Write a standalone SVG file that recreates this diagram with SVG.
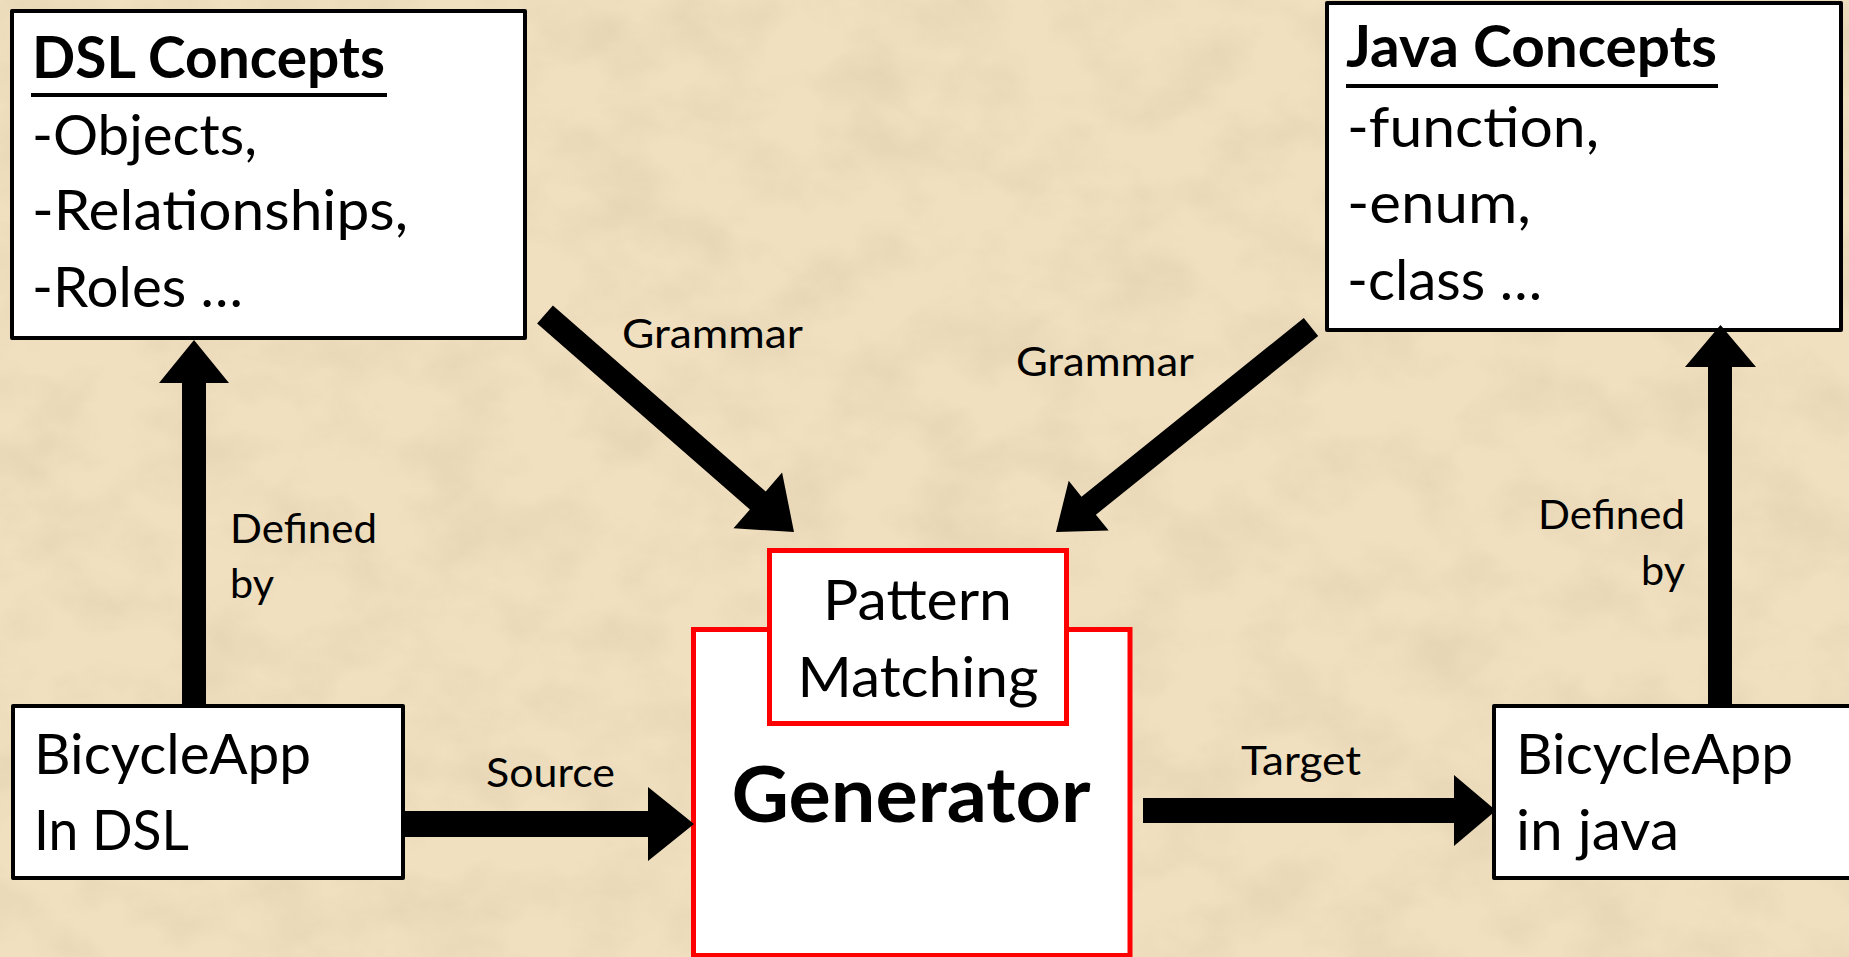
<svg xmlns="http://www.w3.org/2000/svg" width="1849" height="957" viewBox="0 0 1849 957">
<defs>
<filter id="paper" x="0" y="0" width="100%" height="100%" filterUnits="userSpaceOnUse">
<feTurbulence type="fractalNoise" baseFrequency="0.012 0.016" numOctaves="5" seed="7" result="n"/>
<feColorMatrix in="n" type="matrix" values="0 0 0 0 0.78  0 0 0 0 0.66  0 0 0 0 0.46  1.8 0 0 0 -0.7"/>
</filter>
<style>
.box{fill:#ffffff;stroke:#000000;stroke-width:4;stroke-linejoin:round}
.red{fill:#ffffff;stroke:#ff0000;stroke-width:5}
.t{font-family:Lato,"Liberation Sans",sans-serif;fill:#000000}
.big{font-size:56px}
.ttl{font-size:57px;font-weight:bold}
.lbl{font-size:41px}
.gen{font-size:76px;font-weight:bold}
.arrow{fill:#000000;stroke:none}
</style>
</defs>
<rect x="0" y="0" width="1849" height="957" fill="#f0e0bf"/>
<rect x="0" y="0" width="1849" height="957" filter="url(#paper)"/>

<g id="dsl-concepts">
<rect class="box" x="12" y="11" width="513" height="327"/>
<text class="t ttl" x="32" y="78" textLength="353" lengthAdjust="spacingAndGlyphs">DSL Concepts</text>
<rect x="31" y="93" width="356" height="4" fill="#000"/>
<text class="t big" x="32" y="155" textLength="225" lengthAdjust="spacingAndGlyphs">-Objects,</text>
<text class="t big" x="32" y="230" textLength="376" lengthAdjust="spacingAndGlyphs">-Relationships,</text>
<text class="t big" x="32" y="307" textLength="211" lengthAdjust="spacingAndGlyphs">-Roles …</text>
</g>

<g id="java-concepts">
<rect class="box" x="1327" y="3" width="514" height="327"/>
<text class="t ttl" x="1346" y="67" textLength="371" lengthAdjust="spacingAndGlyphs">Java Concepts</text>
<rect x="1346" y="84" width="372" height="4" fill="#000"/>
<text class="t big" x="1347" y="147" textLength="252" lengthAdjust="spacingAndGlyphs">-function,</text>
<text class="t big" x="1347" y="223" textLength="184" lengthAdjust="spacingAndGlyphs">-enum,</text>
<text class="t big" x="1347" y="300" textLength="195" lengthAdjust="spacingAndGlyphs">-class …</text>
</g>

<g id="bicycle-dsl">
<rect class="box" x="13" y="706" width="390" height="172"/>
<text class="t big" x="34" y="774" textLength="277" lengthAdjust="spacingAndGlyphs">BicycleApp</text>
<text class="t big" x="34" y="850" textLength="155" lengthAdjust="spacingAndGlyphs">In DSL</text>
</g>

<g id="bicycle-java">
<rect class="box" x="1494" y="706" width="400" height="172"/>
<text class="t big" x="1516" y="774" textLength="277" lengthAdjust="spacingAndGlyphs">BicycleApp</text>
<text class="t big" x="1516" y="850" textLength="163" lengthAdjust="spacingAndGlyphs">in java</text>
</g>

<g id="generator">
<rect class="red" x="693.5" y="629.5" width="436.5" height="326"/>
<text class="t gen" x="911" y="822" text-anchor="middle" textLength="359" lengthAdjust="spacingAndGlyphs">Generator</text>
</g>

<g id="pattern-matching">
<rect class="red" x="769.5" y="550.5" width="297" height="173"/>
<text class="t big" x="917.5" y="620" text-anchor="middle" textLength="189" lengthAdjust="spacingAndGlyphs">Pattern</text>
<text class="t big" x="918" y="697" text-anchor="middle" textLength="241" lengthAdjust="spacingAndGlyphs">Matching</text>
</g>

<g id="connectors">
<polygon class="arrow" points="182,706 182,383 159,383 194,340 229,383 206,383 206,706"/>
<text class="t lbl" x="230" y="543" textLength="147" lengthAdjust="spacingAndGlyphs">Defined</text>
<text class="t lbl" x="230" y="598" textLength="44" lengthAdjust="spacingAndGlyphs">by</text>

<polygon class="arrow" points="1708,706 1708,367 1685,367 1720.5,325 1756,367 1732,367 1732,706"/>
<text class="t lbl" x="1538" y="529" textLength="147" lengthAdjust="spacingAndGlyphs">Defined</text>
<text class="t lbl" x="1641" y="585" textLength="44" lengthAdjust="spacingAndGlyphs">by</text>

<polygon class="arrow" points="537.1,323.5 749.9,509.4 733.5,528.3 794,532 782.1,472.5 765.7,491.4 552.9,305.5"/>
<text class="t lbl" x="622" y="348" textLength="181" lengthAdjust="spacingAndGlyphs">Grammar</text>

<polygon class="arrow" points="1303.8,318 1081.5,496.7 1068.7,480.8 1056,532 1108.7,530.6 1095.9,514.7 1318.2,336"/>
<text class="t lbl" x="1016" y="376" textLength="178" lengthAdjust="spacingAndGlyphs">Grammar</text>

<polygon class="arrow" points="403,811 648,811 648,787 694,824 648,861 648,837 403,837"/>
<text class="t lbl" x="486" y="787" textLength="129" lengthAdjust="spacingAndGlyphs">Source</text>

<polygon class="arrow" points="1143,798 1454,798 1454,775 1496,810.5 1454,846 1454,823 1143,823"/>
<text class="t lbl" x="1241" y="775" textLength="120" lengthAdjust="spacingAndGlyphs">Target</text>
</g>
</svg>
